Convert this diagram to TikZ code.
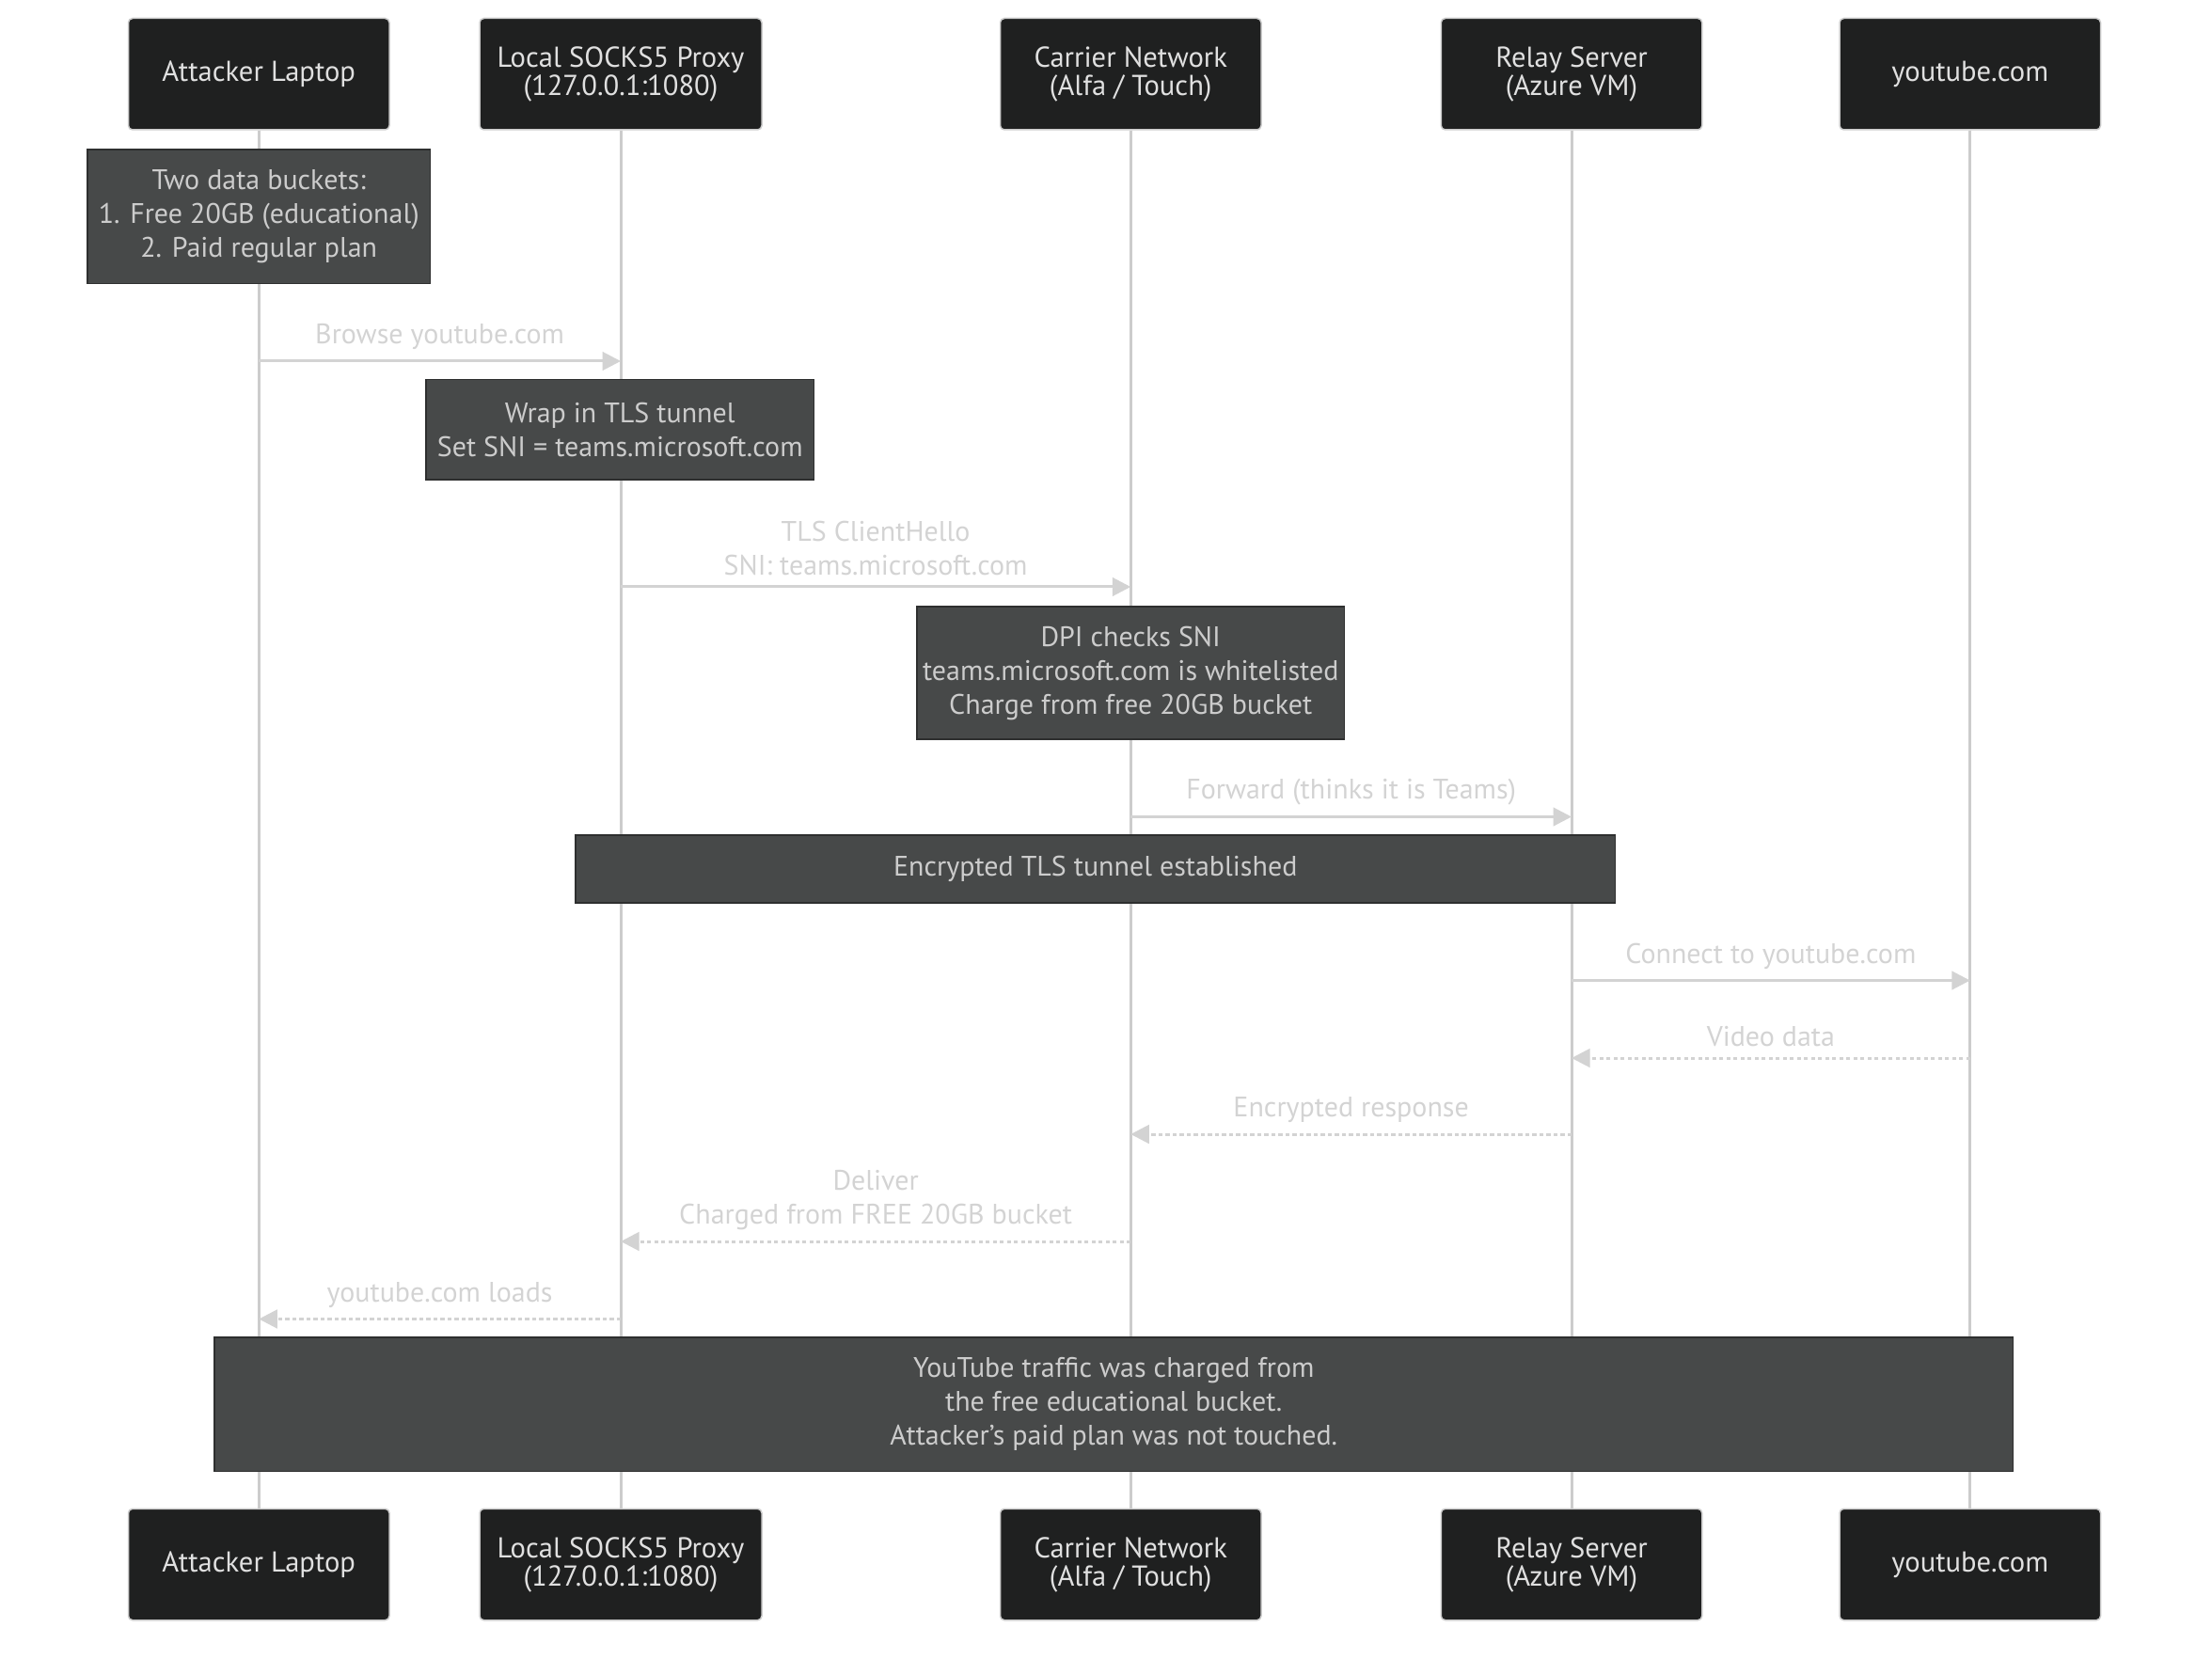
\documentclass[tikz,border=0pt]{standalone}
\usepackage{fontspec}
\setmainfont{PT Sans}
\usetikzlibrary{arrows.meta, positioning}
\definecolor{actorfill}{HTML}{1F2020}
\definecolor{notefill}{HTML}{474949}
\definecolor{noteedge}{HTML}{2E2F2F}
\definecolor{lifegray}{HTML}{CCCCCC}
\definecolor{msggray}{HTML}{D3D3D3}
\begin{document}
\begin{tikzpicture}[
  x=0.5pt, y=-0.5pt,
  every node/.style={font=\fontsize{10}{12}\selectfont},
  actor/.style={fill=actorfill, draw=lifegray, line width=0.5pt, rounded corners=1.5pt,
    font=\fontsize{10.2}{10}\selectfont, text=white!88!black, align=center,
    minimum width=92.5pt, minimum height=39.5pt, inner sep=0pt},
  note/.style={fill=notefill, draw=noteedge, line width=0.6pt, text=lifegray,
    align=center, inner sep=0pt},
  life/.style={draw=lifegray, line width=1pt},
  msg/.style={draw=msggray, line width=1pt, -{Triangle[length=6.5pt, width=6.5pt]}},
  reply/.style={msg, dash pattern=on 1.4pt off 1.1pt},
  lbl/.style={text=msggray, align=center, inner sep=1pt, above=2.5pt}
]
  \useasboundingbox (0,0) rectangle (1568,1176);

  \node[actor] (lapT) at (183.5,52.5) {Attacker Laptop};
  \node[actor, minimum width=100pt] (proxyT) at (440,52.5) {Local SOCKS5 Proxy\\(127.0.0.1:1080)};
  \node[actor] (carT) at (801.5,52.5) {Carrier Network\\(Alfa / Touch)};
  \node[actor] (relayT) at (1114,52.5) {Relay Server\\(Azure VM)};
  \node[actor] (ytT) at (1396.5,52.5) {youtube.com};

  \node[actor] (lapB) at (183.5,1109) {Attacker Laptop};
  \node[actor, minimum width=100pt] (proxyB) at (440,1109) {Local SOCKS5 Proxy\\(127.0.0.1:1080)};
  \node[actor] (carB) at (801.5,1109) {Carrier Network\\(Alfa / Touch)};
  \node[actor] (relayB) at (1114,1109) {Relay Server\\(Azure VM)};
  \node[actor] (ytB) at (1396.5,1109) {youtube.com};

  \foreach \a in {lap, proxy, car, relay, yt}
    \draw[life] (\a T) -- (\a B);

  \foreach \n/\y in {1/256, 2/416, 3/579, 4/695, 5/750, 6/804, 7/880, 8/935}
    \coordinate (r\n) at (0,\y);

  \node[note, minimum width=121.5pt, minimum height=47.5pt] (buckets) at (183.5,153.5)
    {Two data buckets:\\1. Free 20GB (educational)\\2. Paid regular plan};
  \node[note, minimum width=137.5pt, minimum height=35.5pt] (wrap) at (439.5,304.5)
    {Wrap in TLS tunnel\\Set SNI = teams.microsoft.com};
  \node[note, minimum width=151.5pt, minimum height=47pt] (dpi) at (801.5,477)
    {DPI checks SNI\\teams.microsoft.com is whitelisted\\Charge from free 20GB bucket};
  \node[note, minimum width=368.5pt, minimum height=24pt] (tunnel) at (776.5,616)
    {Encrypted TLS tunnel established};
  \node[note, minimum width=637.5pt, minimum height=47.5pt] (result) at (789.5,995.5)
    {YouTube traffic was charged from\\the free educational bucket.\\Attacker's paid plan was not touched.};

  \draw[msg] (lapT |- r1) -- node[lbl] {Browse youtube.com} (proxyT |- r1);
  \draw[msg] (proxyT |- r2) -- node[lbl] {TLS ClientHello\\SNI: teams.microsoft.com} (carT |- r2);
  \draw[msg] (carT |- r3) -- node[lbl] {Forward (thinks it is Teams)} (relayT |- r3);
  \draw[msg] (relayT |- r4) -- node[lbl] {Connect to youtube.com} (ytT |- r4);
  \draw[reply] (ytT |- r5) -- node[lbl] {Video data} (relayT |- r5);
  \draw[reply] (relayT |- r6) -- node[lbl] {Encrypted response} (carT |- r6);
  \draw[reply] (carT |- r7) -- node[lbl] {Deliver\\Charged from FREE 20GB bucket} (proxyT |- r7);
  \draw[reply] (proxyT |- r8) -- node[lbl] {youtube.com loads} (lapT |- r8);
\end{tikzpicture}
\end{document}
